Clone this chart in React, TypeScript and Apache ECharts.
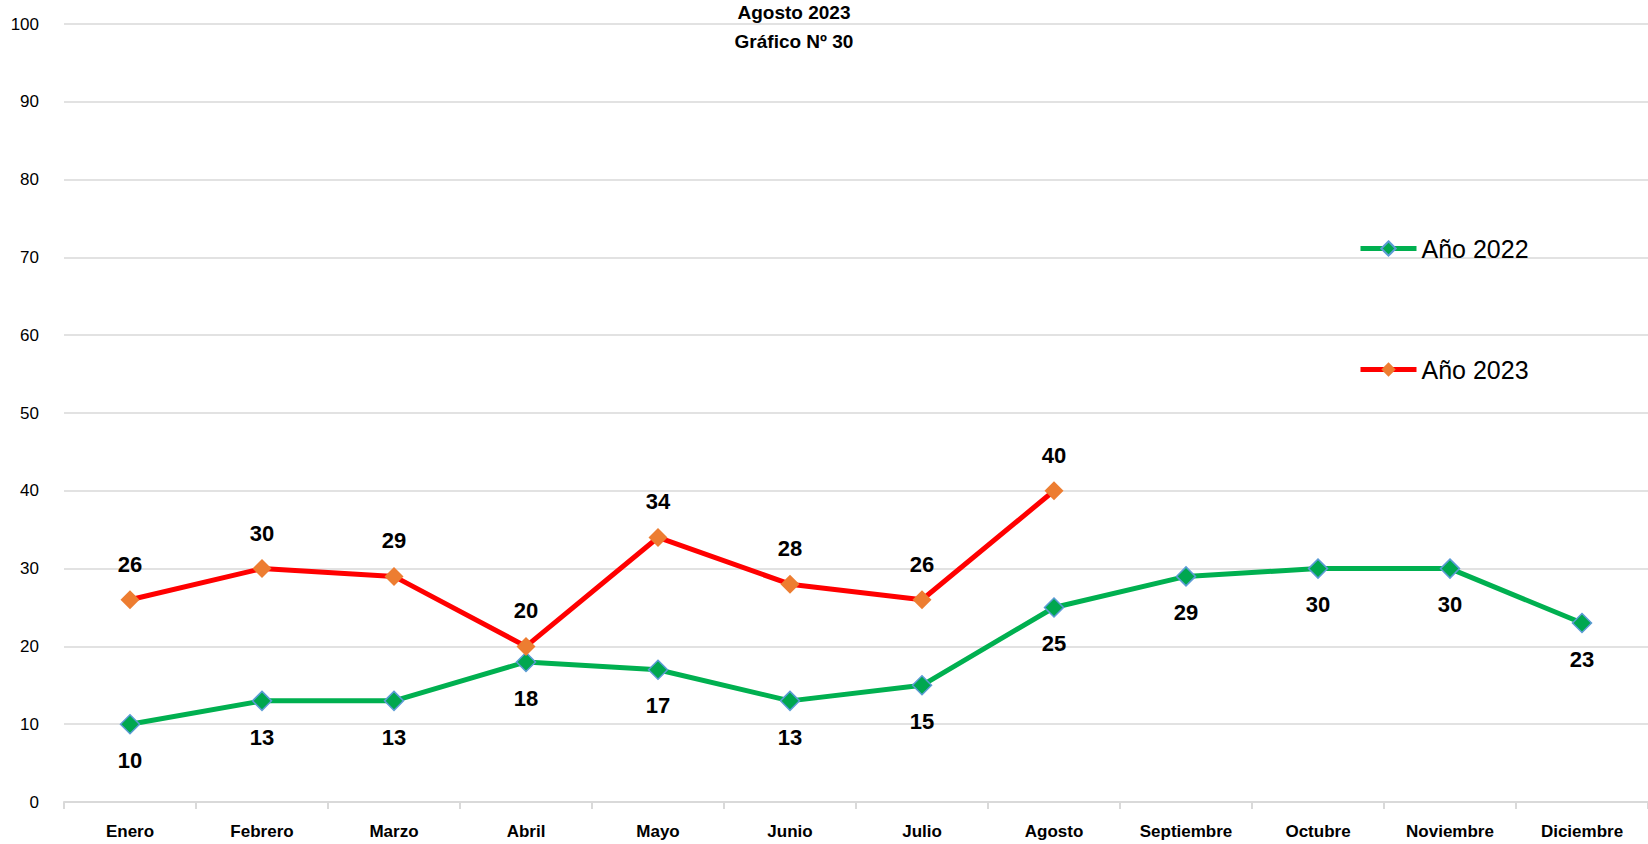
import React, { useEffect, useRef } from "react";
import * as echarts from "echarts";

const months = ["Enero", "Febrero", "Marzo", "Abril", "Mayo", "Junio", "Julio", "Agosto", "Septiembre", "Octubre", "Noviembre", "Diciembre"];
const values2022 = [10, 13, 13, 18, 17, 13, 15, 25, 29, 30, 30, 23];
const values2023 = [26, 30, 29, 20, 34, 28, 26, 40];
const titleLines = ["Agosto 2023", "Gráfico Nº 30"];

const font = "'Liberation Sans', Arial, sans-serif";

export default function App() {
  const ref = useRef<HTMLDivElement>(null);
  useEffect(() => {
    if (!ref.current) return;
    const chart = echarts.init(ref.current, null, { renderer: "svg" });
    chart.setOption({
      animation: false,
      backgroundColor: "#ffffff",
      title: {
        text: titleLines.join("\n"),
        left: 789,
        top: -7,
        textAlign: "center",
        textStyle: { fontFamily: font, fontWeight: "bold", fontSize: 19, lineHeight: 29, color: "#000" },
      },
      legend: {
        orient: "vertical",
        left: 1353,
        top: 231,
        itemWidth: 56,
        itemHeight: 18,
        itemGap: 96,
        textStyle: { fontFamily: font, fontSize: 25, color: "#000" },
        lineStyle: { width: 5 },
        data: [
          { name: "Año 2022", lineStyle: { width: 5, color: "#00B050" } },
          { name: "Año 2023", lineStyle: { width: 5, color: "#FF0000" } },
        ],
      },
      grid: { left: 64, right: -4, top: 24, bottom: 42, containLabel: false },
      xAxis: {
        type: "category",
        data: months,
        boundaryGap: true,
        axisLine: { lineStyle: { color: "#D9D9D9", width: 2 } },
        axisTick: { show: true, interval: 0, length: 7, lineStyle: { color: "#D9D9D9", width: 2 } },
        axisLabel: { interval: 0, fontFamily: font, fontWeight: "bold", fontSize: 17, color: "#000", margin: 21 },
      },
      yAxis: {
        type: "value",
        min: 0,
        max: 100,
        interval: 10,
        axisLine: { show: false },
        axisTick: { show: false },
        splitLine: { lineStyle: { color: "#D9D9D9", width: 1.5 } },
        axisLabel: { fontFamily: font, fontSize: 17, color: "#000", margin: 25 },
      },
      series: [
        {
          name: "Año 2022",
          type: "line",
          data: values2022,
          symbol: "diamond",
          symbolSize: 19,
          lineStyle: { color: "#00B050", width: 5 },
          itemStyle: { color: "#00A74F", borderColor: "#5B9BD5", borderWidth: 1.5 },
          label: { show: true, position: "bottom", distance: 15, fontFamily: font, fontWeight: "bold", fontSize: 22, color: "#000" },
          z: 2,
        },
        {
          name: "Año 2023",
          type: "line",
          data: values2023,
          symbol: "diamond",
          symbolSize: 19,
          lineStyle: { color: "#FF0000", width: 5 },
          itemStyle: { color: "#ED7D31", borderColor: "#ED7D31", borderWidth: 0 },
          label: { show: true, position: "top", distance: 15, fontFamily: font, fontWeight: "bold", fontSize: 22, color: "#000" },
          z: 3,
        },
      ],
    });
    return () => chart.dispose();
  }, []);
  return <div ref={ref} style={{ position: "fixed", left: 0, top: 0, width: 1648, height: 844 }} />;
}
